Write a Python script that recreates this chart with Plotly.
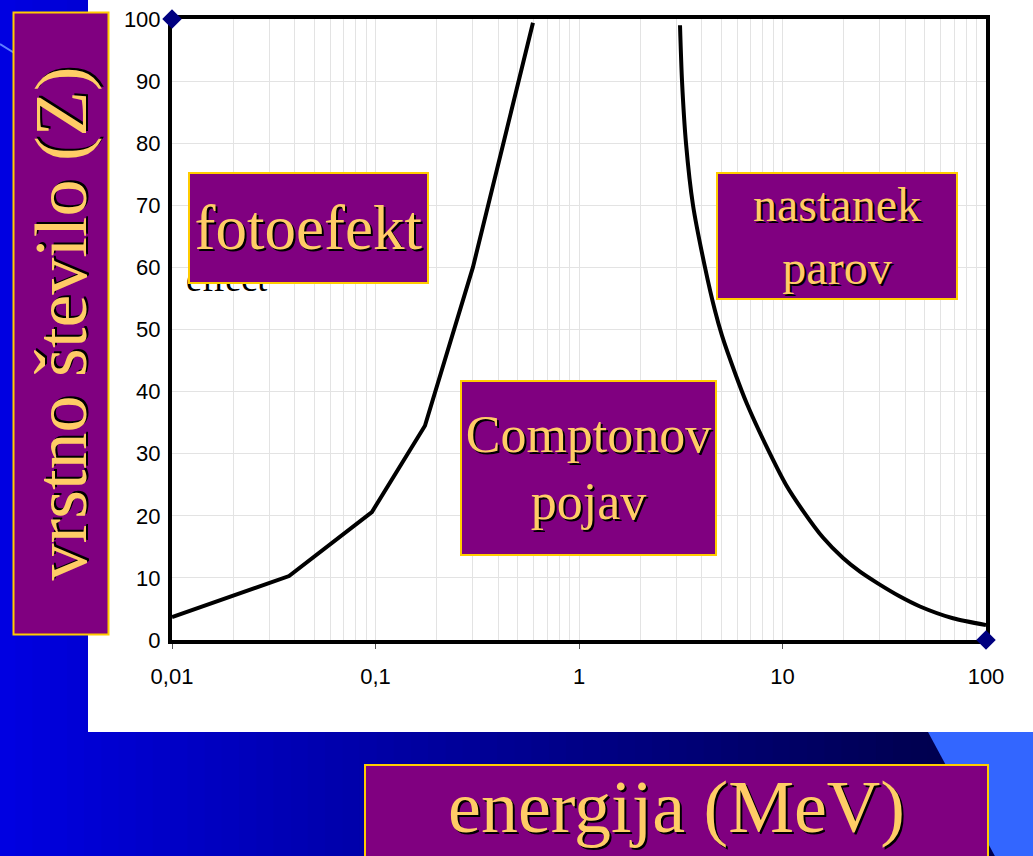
import plotly.graph_objects as go

# ---------------- data ----------------
energy_photo_compton = [0.01, 0.0376, 0.096, 0.175, 0.301, 0.594]
z_photo_compton = [3.7, 10.3, 20.6, 34.5, 60, 99.4]

energy_compton_pair = [3.136, 3.208, 3.356, 3.633, 4.161, 4.66, 5.044, 5.843, 6.692, 8.68,
                       10.40, 12.61, 15.81, 19.83, 24.03, 29.13, 37.79, 47.39, 68.83, 100]
z_compton_pair = [99, 90, 80, 70, 60, 53, 49, 43, 38, 30,
                  25, 20.8, 16.5, 13.2, 11, 9.2, 7, 5.4, 3.5, 2.4]

corner_energy = [0.01, 100]
corner_z = [100, 0]

x_tickvals = [0.01, 0.1, 1, 10, 100]
x_ticktext = ["0,01", "0,1", "1", "10", "100"]
y_tickvals = [0, 10, 20, 30, 40, 50, 60, 70, 80, 90, 100]

label_y = "vrstno število (Z)"
label_x = "energija (MeV)"
region_photo = "fotoefekt"
region_compton = "Comptonov<br>pojav"
region_pair = "nastanek<br>parov"
hidden_text = "effect"

# ---------------- geometry helpers (pixel -> paper) ----------------
W, H = 1033, 856
L, R, T, B = 172, 47, 19, 216
PW, PH = W - L - R, H - T - B


def px(x):
    return (x - L) / PW


def py(y):
    return (H - B - y) / PH


minor_vals = [m * 10 ** d for d in range(-2, 2) for m in range(2, 10)]

fig = go.Figure()

fig.add_trace(go.Scatter(x=energy_photo_compton, y=z_photo_compton, mode="lines",
                         line=dict(color="black", width=4), hoverinfo="skip", showlegend=False))
fig.add_trace(go.Scatter(x=energy_compton_pair, y=z_compton_pair, mode="lines",
                         line=dict(color="black", width=4, shape="spline", smoothing=0.7),
                         hoverinfo="skip", showlegend=False))
fig.add_trace(go.Scatter(x=corner_energy, y=corner_z, mode="markers",
                         marker=dict(symbol="diamond", size=15, color="#000080"),
                         cliponaxis=False, hoverinfo="skip", showlegend=False))

shapes = []
# slide background gradient
n = 60
for i in range(n):
    x0 = i * W / n
    x1 = (i + 1) * W / n
    t = min((x0 + x1) / 2 / 930, 1.0)
    b = int(round(226 - (226 - 80) * t))
    shapes.append(dict(type="rect", xref="paper", yref="paper", layer="below",
                       x0=px(x0 - 2), x1=px(x1 + 1), y0=py(H + 5), y1=py(-5),
                       fillcolor=f"rgb(0,0,{b})", line=dict(width=0)))
# light blue triangle bottom right
shapes.append(dict(type="path", xref="paper", yref="paper", layer="below",
                   path=f"M {px(928)} {py(732)} L {px(1040)} {py(732)} L {px(1040)} {py(860)} L {px(997)} {py(860)} Z",
                   fillcolor="#3366ff", line=dict(width=0)))
# faint line top-left
shapes.append(dict(type="line", xref="paper", yref="paper", layer="below",
                   x0=px(0), y0=py(44), x1=px(16), y1=py(54),
                   line=dict(color="#5f7fff", width=2)))
# white chart panel
shapes.append(dict(type="rect", xref="paper", yref="paper", layer="below",
                   x0=px(88), x1=px(1040), y0=py(732), y1=py(-5),
                   fillcolor="white", line=dict(width=0)))

PURPLE = "#800080"
GOLD = "#ffcc00"
TXT = "#ffcc66"
SHADOW = "2px 2px 0px #000000"
SERIF = "Liberation Serif, Times New Roman, serif"

annotations = []


def box(text, x0, y0, x1, y1, size, angle=0, valign="middle"):
    w = x1 - x0
    h = y1 - y0
    if angle:
        bw, bh = h - 4, w - 4
    else:
        bw, bh = w - 4, h - 4
    return dict(text=text, xref="paper", yref="paper",
                x=px((x0 + x1) / 2), y=py((y0 + y1) / 2),
                xanchor="center", yanchor="middle", showarrow=False,
                width=bw, height=bh, textangle=angle, valign=valign, align="center",
                bgcolor=PURPLE, bordercolor=GOLD, borderwidth=2, borderpad=0,
                font=dict(family=SERIF, size=size, color=TXT, shadow=SHADOW))


# partially covered black text under the fotoefekt box
annotations.append(dict(text=hidden_text, xref="paper", yref="paper",
                        x=px(186), y=py(299), xanchor="left", yanchor="bottom",
                        showarrow=False, borderpad=0, borderwidth=0,
                        font=dict(family=SERIF, size=36, color="black")))
annotations.append(box(region_photo, 188, 172, 429, 284, 63))
annotations.append(box(region_pair, 716, 172, 958, 300, 48))
annotations.append(box(region_compton, 460, 380, 717, 556, 52))
annotations.append(box(label_y, 12, 12, 109, 636, 74, angle=-90))
annotations.append(box(label_x, 364, 764, 989, 900, 74, valign="top"))

fig.update_layout(
    width=W, height=H,
    margin=dict(l=L, r=R, t=T, b=B, pad=0, autoexpand=False),
    paper_bgcolor="#0000e0",
    plot_bgcolor="white",
    shapes=shapes,
    annotations=annotations,
    showlegend=False,
    font=dict(family="Liberation Sans, Arial", color="black"),
)

fig.update_xaxes(type="log", range=[-2, 2], automargin=False,
                 tickmode="array", tickvals=x_tickvals, ticktext=x_ticktext,
                 tickfont=dict(size=22, color="black"),
                 ticks="outside", ticklen=5, tickwidth=1, tickcolor="#555555",
                 ticklabelstandoff=9,
                 showgrid=True, gridcolor="#e3e3e3", gridwidth=1,
                 minor=dict(tickmode="array", tickvals=minor_vals, showgrid=True,
                            gridcolor="#e3e3e3", gridwidth=1, ticks=""),
                 showline=True, linecolor="black", linewidth=4, mirror=True,
                 zeroline=False, layer="below traces", fixedrange=True)
fig.update_yaxes(range=[0, 100], tickmode="array", tickvals=y_tickvals, automargin=False,
                 tickfont=dict(size=22, color="black"),
                 ticks="outside", ticklen=3, tickcolor="rgba(0,0,0,0)",
                 showgrid=True, gridcolor="#e3e3e3", gridwidth=1,
                 showline=True, linecolor="black", linewidth=4, mirror=True,
                 zeroline=False, layer="below traces", fixedrange=True)

fig.write_html("out.html", config={"displayModeBar": False},
               post_script="document.body.style.margin='0';document.body.style.padding='0';")
